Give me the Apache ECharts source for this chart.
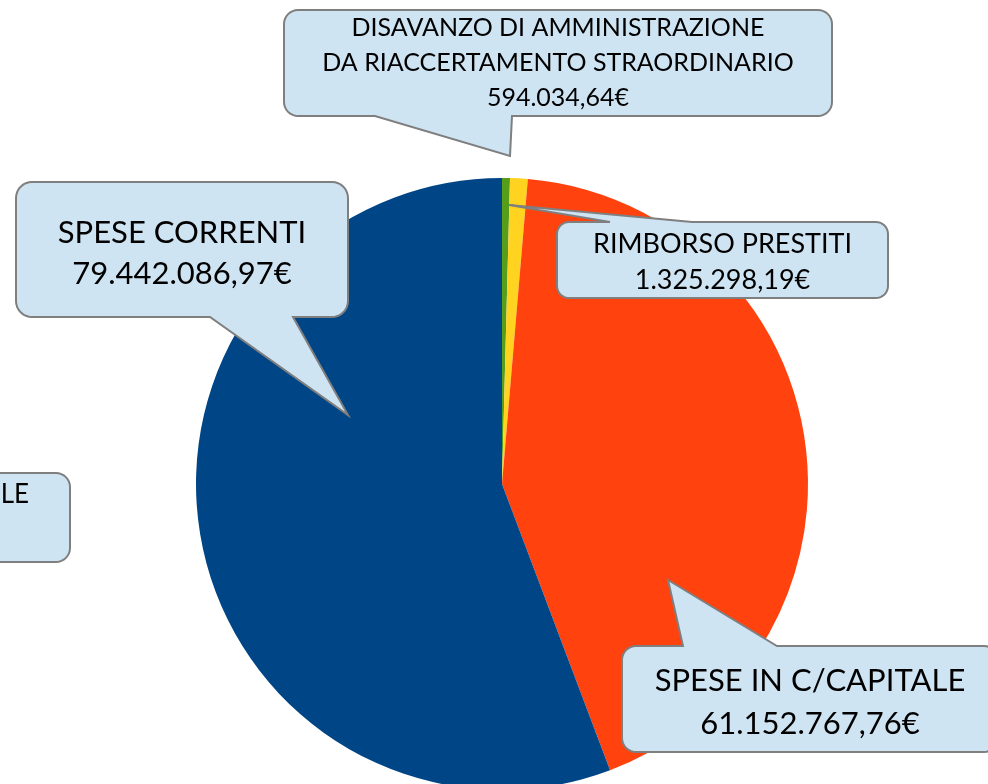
<!DOCTYPE html>
<html>
<head>
<meta charset="utf-8">
<script src="https://cdn.jsdelivr.net/npm/echarts@6/dist/echarts.min.js"></script>
<style>
  html, body { margin: 0; padding: 0; background: #fff; }
  #main { width: 988px; height: 784px; }
</style>
</head>
<body>
<div id="main"></div>
<script>
// dati spese
var categories = [
    'DISAVANZO DI AMMINISTRAZIONE\nDA RIACCERTAMENTO STRAORDINARIO',
    'RIMBORSO PRESTITI',
    'SPESE IN C/CAPITALE',
    'SPESE CORRENTI'
];
var values = [594034.64, 1325298.19, 61152767.76, 79442086.97];
var valueLabels = ['594.034,64€', '1.325.298,19€', '61.152.767,76€', '79.442.086,97€'];
var colors = ['#579d1c', '#ffd320', '#ff420e', '#004586'];

var dom = document.getElementById('main');
var myChart = echarts.init(dom);

// angolo arrotondato (punti)
function corner(pts, cx, cy, r, a0) {
    for (var k = 0; k <= 8; k++) {
        var a = (a0 + k * 90 / 8) * Math.PI / 180;
        pts.push([cx + r * Math.cos(a), cy + r * Math.sin(a)]);
    }
}

// fumetto: box arrotondato con punta sul lato sopra o sotto
function calloutPoints(x, y, w, h, r, edge, b1, b2, tx, ty) {
    var pts = [];
    corner(pts, x + r, y + r, r, 180);
    if (edge === 'top') {
        pts.push([b1, y], [tx, ty], [b2, y]);
    }
    corner(pts, x + w - r, y + r, r, 270);
    corner(pts, x + w - r, y + h - r, r, 0);
    if (edge === 'bottom') {
        pts.push([b2, y + h], [tx, ty], [b1, y + h]);
    }
    corner(pts, x + r, y + h - r, r, 90);
    return pts;
}

function callout(box, text, size, lh, cy) {
    return [{
        type: 'polygon',
        shape: { points: calloutPoints.apply(null, box) },
        style: { fill: '#cfe4f3', stroke: '#7f7f7f', lineWidth: 2 },
        z: 10
    }, {
        type: 'text',
        style: {
            text: text,
            x: box[0] + box[2] / 2,
            y: cy,
            fill: '#000',
            font: size + 'px Lato',
            lineHeight: lh,
            align: 'center',
            verticalAlign: 'middle'
        },
        z: 11
    }];
}

var graphics = [].concat(
    callout([284, 10, 548, 106, 14, 'bottom', 375, 512, 510, 156],
        categories[0] + '\n' + valueLabels[0], 25, 35, 63),
    callout([557, 222, 331, 76, 12, 'top', 610, 692, 509, 205],
        categories[1] + '\n' + valueLabels[1], 27, 36, 262),
    callout([622, 646, 376, 106, 14, 'top', 683, 777, 668, 580],
        categories[2] + '\n' + valueLabels[2], 31, 43, 702),
    callout([16, 182, 332, 135, 16, 'bottom', 210, 293, 348, 415],
        categories[3] + '\n' + valueLabels[3], 31, 41, 253),
    [{
        type: 'polygon',
        shape: { points: calloutPoints(-40, 473, 110, 89, 14, 'none') },
        style: { fill: '#cfe4f3', stroke: '#7f7f7f', lineWidth: 2 },
        z: 10
    }, {
        type: 'text',
        style: { text: 'LE', x: 29, y: 495, fill: '#000', font: '26px Lato', align: 'right', verticalAlign: 'middle' },
        z: 11
    }]
);

var data = [];
for (var i = 0; i < values.length; i++) {
    data.push({ name: categories[i], value: values[i], itemStyle: { color: colors[i] } });
}

option = {
    animation: false,
    backgroundColor: '#fff',
    series: [
        {
            type: 'pie',
            center: [502, 484],
            radius: 306,
            startAngle: 90,
            clockwise: true,
            label: { show: false },
            labelLine: { show: false },
            itemStyle: { borderWidth: 0 },
            emphasis: { disabled: true },
            data: data
        }
    ],
    graphic: graphics
};
if (option && typeof option === "object") {
    myChart.setOption(option, true);
}
</script>
</body>
</html>
